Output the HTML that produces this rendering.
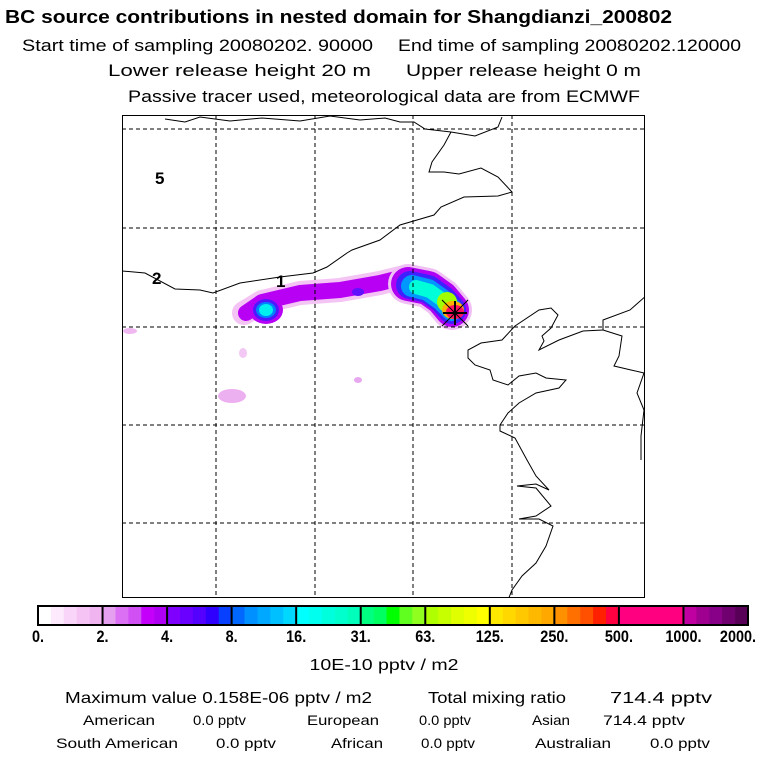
<!DOCTYPE html>
<html><head><meta charset="utf-8"><style>
body{margin:0;background:#fff;}
svg{display:block;font-family:"Liberation Sans",sans-serif;}
</style></head><body>
<svg width="768" height="768" viewBox="0 0 768 768">
<rect width="768" height="768" fill="#fff"/>
<g fill="#000">
<text x="5" y="23" font-size="18" font-weight="bold" textLength="667" lengthAdjust="spacingAndGlyphs">BC  source contributions in nested domain for Shangdianzi_200802</text>
<text x="22" y="51" font-size="17" textLength="351" lengthAdjust="spacingAndGlyphs">Start time of sampling 20080202. 90000</text>
<text x="398" y="51" font-size="17" textLength="343" lengthAdjust="spacingAndGlyphs">End time of sampling 20080202.120000</text>
<text x="108" y="76" font-size="17" textLength="263" lengthAdjust="spacingAndGlyphs">Lower release height   20 m</text>
<text x="406" y="76" font-size="17" textLength="235" lengthAdjust="spacingAndGlyphs">Upper release height    0 m</text>
<text x="128" y="102" font-size="17" textLength="512" lengthAdjust="spacingAndGlyphs">Passive tracer used, meteorological data are from ECMWF</text>
</g>

<g>
<clipPath id="mc"><rect x="122" y="115" width="523" height="483"/></clipPath>
<g clip-path="url(#mc)">
<g>
<ellipse cx="130" cy="331" rx="7" ry="3" fill="#f0b8f0"/>
<ellipse cx="243" cy="353" rx="4" ry="5" fill="#f4c8f4"/>
<ellipse cx="232" cy="396" rx="14" ry="7" fill="#ecb0f0"/>
<ellipse cx="358" cy="380" rx="4" ry="3" fill="#e8a8f0"/>
<polyline points="244,313 262,302 300,293 340,290 380,283 400,278" fill="none" stroke="#f4c4f4" stroke-width="24" stroke-linecap="round" stroke-linejoin="round"/>
<polyline points="246,313 262,302 300,293 340,290 380,283 400,278" fill="none" stroke="#b800f4" stroke-width="16" stroke-linecap="round" stroke-linejoin="round"/>
<ellipse cx="266" cy="310" rx="17" ry="14" fill="#b800f4"/>
<ellipse cx="266" cy="310" rx="13" ry="11" fill="#5018ff"/>
<ellipse cx="266" cy="310" rx="10" ry="8" fill="#0080ff"/>
<ellipse cx="266" cy="310" rx="7" ry="6" fill="#00f0f0"/>
<ellipse cx="358" cy="292" rx="6" ry="4" fill="#6010ff"/>
<polyline points="408,284 428,288 442,298 452,310" fill="none" stroke="#f0c0f4" stroke-width="40" stroke-linecap="round" stroke-linejoin="round"/>
<polyline points="408,284 428,288 442,298 452,310" fill="none" stroke="#b000f4" stroke-width="34" stroke-linecap="round" stroke-linejoin="round"/>
<polyline points="410,285 428,289 442,299 452,310" fill="none" stroke="#4020ff" stroke-width="28" stroke-linecap="round" stroke-linejoin="round"/>
<polyline points="412,286 428,290 442,300 452,310" fill="none" stroke="#0098ff" stroke-width="22" stroke-linecap="round" stroke-linejoin="round"/>
<polyline points="416,287 430,291 444,301" fill="none" stroke="#00ffd8" stroke-width="14" stroke-linecap="round" stroke-linejoin="round"/>
<ellipse cx="447" cy="302" rx="10" ry="10" fill="#a0ff00"/>
<ellipse cx="453" cy="310" rx="11" ry="9" fill="#ffb000"/>
<ellipse cx="455" cy="312" rx="9" ry="7" fill="#ff1060"/>
</g>
<g fill="none" stroke="#000" stroke-width="1" stroke-dasharray="4,3">
<line x1="216" y1="115" x2="216" y2="598"/><line x1="315" y1="115" x2="315" y2="598"/>
<line x1="413" y1="115" x2="413" y2="598"/><line x1="512" y1="115" x2="512" y2="598"/>
<line x1="122" y1="129" x2="645" y2="129"/><line x1="122" y1="228" x2="645" y2="228"/>
<line x1="122" y1="327" x2="645" y2="327"/><line x1="122" y1="425" x2="645" y2="425"/>
<line x1="122" y1="523" x2="645" y2="523"/>
</g>
<g fill="none" stroke="#000" stroke-width="1">
<polyline points="165,119 185,122 200,117 230,121 262,118 300,121 330,116 360,120 385,118 400,122 414,122 425,129 451,132 475,136 498,127 502,117"/>
<polyline points="451,132 444,145 432,162 429,172 444,172 459,174 481,168 498,177 512,192 498,196 464,197 441,207 434,215 400,225 380,240 352,250 347,253 327,267 313,273 280,277 240,283 213,293 200,290 175,289 145,273 122,271"/>
<polyline points="647,295 630,310 603,320 603,330 583,331 559,340 539,350 544,341 542,336 551,328 558,315 551,308 539,310 515,326 502,340 481,343 468,350 468,358 475,365 490,370 493,380 508,385 519,376 536,373 546,378 566,380 559,388 536,393 519,403 508,413 500,425 500,431 515,438 527,460 536,476 549,490 536,484 517,486 536,488 551,506 536,516 519,519 539,519 553,526 546,546 536,563 522,576 512,590 508,600"/>
<polyline points="603,330 622,336 619,356 614,366 631,370 644,373 637,393 644,410 641,436 641,460"/>
</g>
<g stroke="#000">
<line x1="443" y1="313" x2="467" y2="313" stroke-width="2"/>
<line x1="455" y1="301" x2="455" y2="325" stroke-width="2"/>
<line x1="442" y1="300" x2="468" y2="326" stroke-width="1"/>
<line x1="468" y1="300" x2="442" y2="326" stroke-width="1"/>
</g>
</g>
<rect x="122.5" y="115.5" width="522" height="482" fill="none" stroke="#000"/>
<text x="155" y="184" font-size="17" font-weight="bold">5</text>
<text x="152" y="284" font-size="17" font-weight="bold">2</text>
<text x="276" y="287" font-size="17" font-weight="bold">1</text>
</g>

<g id="cbar"></g>
<text x="384" y="670" font-size="16" text-anchor="middle" textLength="149" lengthAdjust="spacingAndGlyphs">10E-10 pptv / m2</text>

<g font-size="16" fill="#000">
<text x="65" y="703" textLength="307" lengthAdjust="spacingAndGlyphs">Maximum value  0.158E-06 pptv / m2</text>
<text x="428" y="703" textLength="138" lengthAdjust="spacingAndGlyphs">Total mixing ratio</text>
<text x="610" y="703" textLength="102" lengthAdjust="spacingAndGlyphs">714.4 pptv</text>
</g>
<g font-size="14" fill="#000">
<text x="83" y="725" textLength="72" lengthAdjust="spacingAndGlyphs">American</text>
<text x="193" y="725" textLength="53" lengthAdjust="spacingAndGlyphs">0.0 pptv</text>
<text x="307" y="725" textLength="72" lengthAdjust="spacingAndGlyphs">European</text>
<text x="419" y="725" textLength="52" lengthAdjust="spacingAndGlyphs">0.0 pptv</text>
<text x="532" y="725" textLength="38" lengthAdjust="spacingAndGlyphs">Asian</text>
<text x="603" y="725" textLength="82" lengthAdjust="spacingAndGlyphs">714.4 pptv</text>
<text x="56" y="748" textLength="122" lengthAdjust="spacingAndGlyphs">South American</text>
<text x="216" y="748" textLength="60" lengthAdjust="spacingAndGlyphs">0.0 pptv</text>
<text x="331" y="748" textLength="52" lengthAdjust="spacingAndGlyphs">African</text>
<text x="421" y="748" textLength="54" lengthAdjust="spacingAndGlyphs">0.0 pptv</text>
<text x="535" y="748" textLength="76" lengthAdjust="spacingAndGlyphs">Australian</text>
<text x="650" y="748" textLength="60" lengthAdjust="spacingAndGlyphs">0.0 pptv</text>
</g>
</svg>
<script>
const tickLabels = ["0.","2.","4.","8.","16.","31.","63.","125.","250.","500.","1000.","2000."];
const segmentColors = [
 ["#ffffff","#fdeafd","#f9d6f9","#f5c4f5","#f0b4f0"],
 ["#e6a0f0","#dc70f4","#d050f4","#c400fa","#b000f4"],
 ["#8000ff","#6a00ff","#5400ff","#3000ff","#0840ff"],
 ["#0068ff","#0090ff","#00a8ff","#00c0ff","#00d8ff"],
 ["#00ffff","#00ffee","#00ffdd","#00ffcc","#00ffbb"],
 ["#00ff80","#00ff60","#00ff00","#60ff20","#90ff20"],
 ["#b0ff00","#c8ff00","#e0ff00","#f0ff00","#ffff00"],
 ["#ffe800","#ffd800","#ffc800","#ffb800","#ffa800"],
 ["#ff9000","#ff7000","#ff5000","#ff2000","#ff0040"],
 ["#ff0080","#ff0080","#ff0080","#ff0080","#ff0080"],
 ["#c000a0","#a00090","#880088","#700070","#580058"]
];
const NS="http://www.w3.org/2000/svg";
const g=document.getElementById('cbar');
const x0=38,x1=748,y0=606,h=19;
const sw=(x1-x0)/segmentColors.length;
const xs=i=>x0+i*sw;
segmentColors.forEach((cols,i)=>{
  const subw=sw/cols.length;
  cols.forEach((c,j)=>{
    const r=document.createElementNS(NS,'rect');
    r.setAttribute('x',xs(i)+j*subw);r.setAttribute('y',y0);
    r.setAttribute('width',subw+0.6);r.setAttribute('height',h);r.setAttribute('fill',c);
    
    
    g.appendChild(r);
  });
});
for(let i=0;i<=segmentColors.length;i++){
  const l=document.createElementNS(NS,'line');
  l.setAttribute('x1',xs(i));l.setAttribute('x2',xs(i));l.setAttribute('y1',y0);l.setAttribute('y2',y0+h);
  l.setAttribute('stroke','#000');l.setAttribute('stroke-width','2');
  
  
  g.appendChild(l);
}
const fr=document.createElementNS(NS,'rect');
fr.setAttribute('x',x0);fr.setAttribute('y',y0);fr.setAttribute('width',x1-x0);fr.setAttribute('height',h);
fr.setAttribute('fill','none');fr.setAttribute('stroke','#000');fr.setAttribute('stroke-width','2');


g.appendChild(fr);
tickLabels.forEach((t,i)=>{
  const tx=document.createElementNS(NS,'text');
  let x=xs(i);
  if(i===tickLabels.length-1) x-=10;
  tx.setAttribute('x',x);tx.setAttribute('y',642);
  tx.setAttribute('text-anchor','middle');tx.setAttribute('font-size','17');tx.setAttribute('font-weight','bold');
  tx.setAttribute('transform','translate('+x+',0) scale(0.85,1) translate('+(-x)+',0)');
  tx.textContent=t;
  
  
  g.appendChild(tx);
});
</script>
</body></html>
